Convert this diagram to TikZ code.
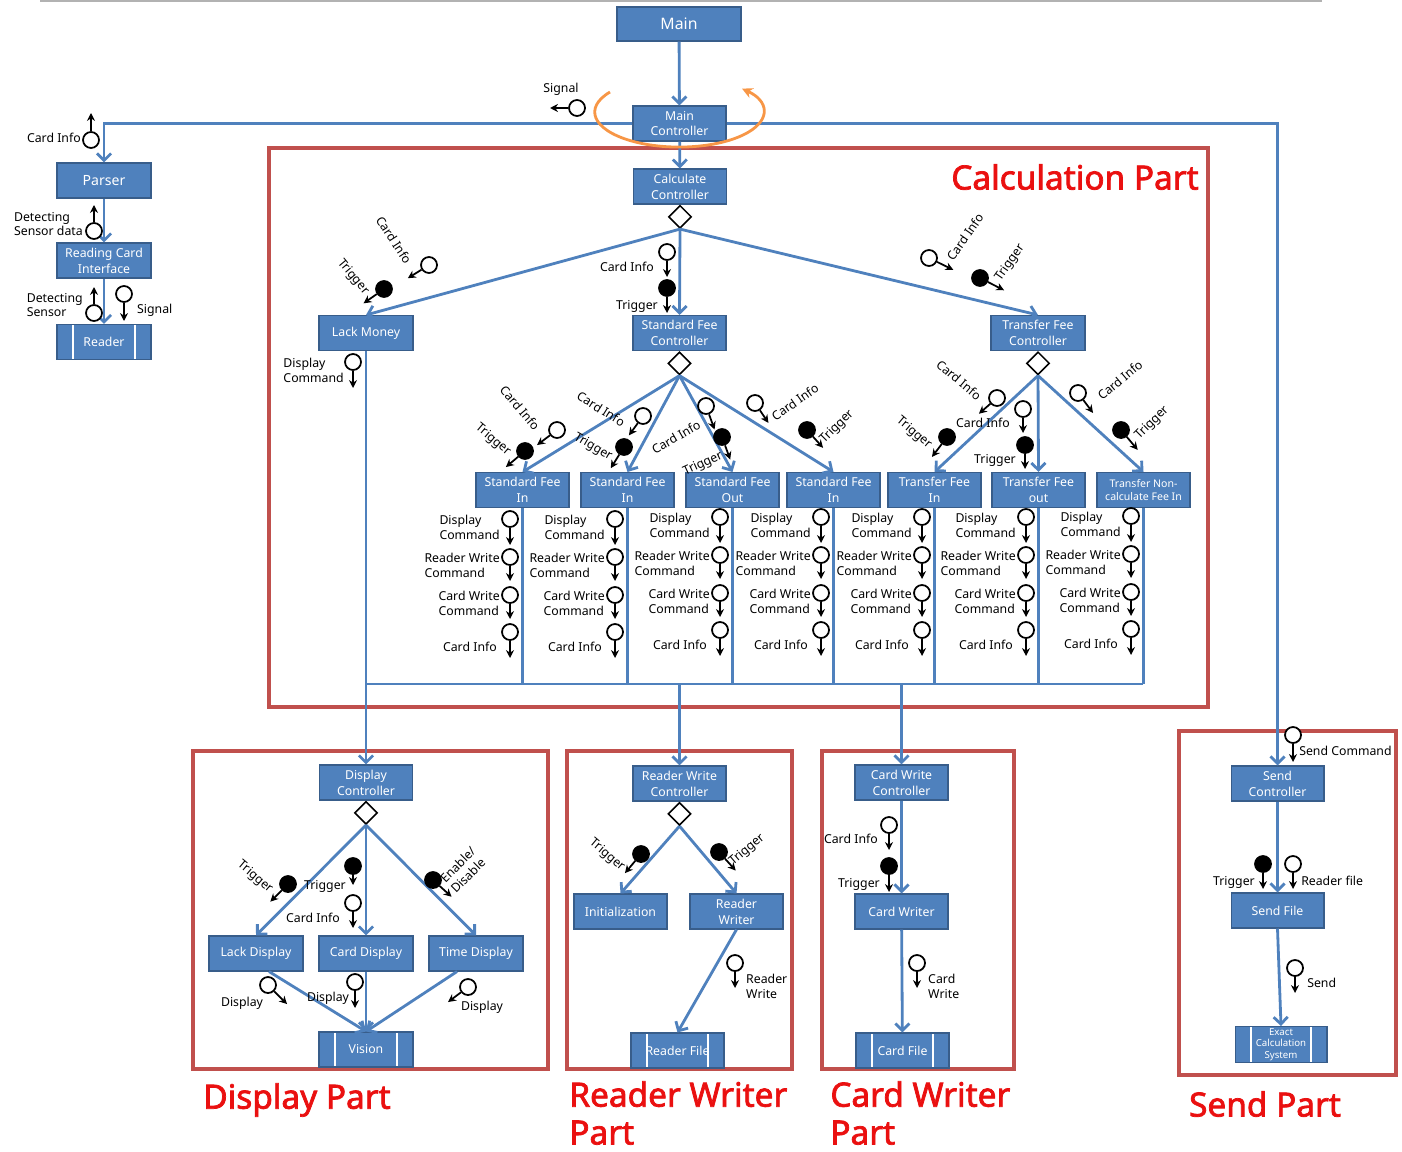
\documentclass[tikz,border=0pt]{standalone}
\usepackage{fontspec}
\setmainfont{Noto Sans}
\newfontfamily\titlefont{Noto Sans}[FakeBold=2.2]
\usetikzlibrary{positioning,shapes.geometric,arrows.meta}
\definecolor{BoxBlue}{RGB}{79,129,189}
\definecolor{BoxEdge}{RGB}{56,93,138}
\definecolor{PartRed}{RGB}{192,80,77}
\definecolor{TitleRed}{RGB}{234,16,16}
\definecolor{LoopOrange}{RGB}{247,150,70}
\newcommand{\boxfont}{\fontsize{7}{9}\selectfont}
\newcommand{\lblfont}{\fontsize{7}{8.5}\selectfont}
\tikzset{
  blk/.style={draw=BoxEdge,fill=BoxBlue,text=white,line width=0.6pt,minimum width=1.86cm,minimum height=0.7cm,inner sep=1pt,align=center,font=\boxfont},
  store/.style={blk,path picture={
      \draw[white,line width=1.2pt] ([xshift=0.32cm]path picture bounding box.north west) -- ([xshift=0.32cm]path picture bounding box.south west);
      \draw[white,line width=1.2pt] ([xshift=-0.32cm]path picture bounding box.north east) -- ([xshift=-0.32cm]path picture bounding box.south east);}},
  choice/.style={diamond,draw=black,fill=white,line width=0.9pt,minimum size=0.46cm,inner sep=0pt},
  wire/.style={draw=BoxBlue,line width=1.6pt},
  flow/.style={wire,-{Straight Barb[length=4pt,width=8pt]}},
  part/.style={draw=PartRed,line width=2.3pt},
  parttitle/.style={text=TitleRed,font=\titlefont\fontsize{19}{21.5}\selectfont,align=left,inner sep=0pt},
  lbl/.style={font=\lblfont,align=left,inner sep=0.5pt},
  cpl/.style={circle,draw=black,line width=1pt,minimum size=0.32cm,inner sep=0pt},
  cplarrow/.style={draw=black,line width=1pt,-{Stealth[length=4.5pt,width=4.5pt]}},
}
% data couple: [fill]{centre}{direction}{length}{name}
\newcommand{\couple}[5][white]{%
  \node[cpl,fill=#1] (#5) at (#2) {};
  \draw[cplarrow] (#5) -- ++(#3:#4);
}
\begin{document}
\begin{tikzpicture}[x=0.02cm,y=-0.02cm]
\useasboundingbox (0,0) rectangle (1402,1152);
\draw[gray!60,line width=1pt] (40,1) -- (1322,1);

% parts
\draw[part] (269,148) rectangle (1208,707);
\draw[part] (193,751) rectangle (548,1069);
\draw[part] (567,751) rectangle (792,1069);
\draw[part] (822,751) rectangle (1014,1069);
\draw[part] (1179,731) rectangle (1396,1075);
\node[parttitle,anchor=east] (calctitle) at (1199,177) {Calculation Part};
\node[parttitle] (disptitle) at (297,1100) {Display Part};
\node[parttitle,anchor=west] (rwtitle) at (569,1113) {Reader Writer\\Part};
\node[parttitle,anchor=west] (cwtitle) at (830,1113) {Card Writer\\Part};
\node[parttitle] (sendtitle) at (1265,1104) {Send Part};

% top
\node[blk,minimum width=2.48cm,minimum height=0.68cm,font=\fontsize{9}{10}\selectfont] (main) at (679,24) {Main};
\node[blk] (mainc) at (679.5,123.5) {Main\\Controller};
\node[blk] (calc) at (680,186.5) {Calculate\\Controller};
\node[choice,below=0pt of calc] (calcd) {};

% reader side
\node[blk,minimum width=1.88cm,font=\fontsize{8}{9}\selectfont] (parser) at (104,180.5) {Parser};
\node[blk,minimum width=1.88cm] (rci) at (104,260.5) {Reading Card\\Interface};
\node[store,minimum width=1.88cm] (reader) at (104,342) {Reader};

% calculation
\node[blk,minimum width=1.88cm] (lack) at (366,333) {Lack Money};
\node[blk] (stdc) at (679.5,333) {Standard Fee\\Controller};
\node[choice,below=0pt of stdc] (stdd) {};
\node[blk,minimum width=1.88cm] (trfc) at (1038,333) {Transfer Fee\\Controller};
\node[choice,below=0pt of trfc] (trfd) {};
\node[blk] (sfa) at (522.5,490) {Standard Fee\\In};
\node[blk] (sfb) at (627.5,490) {Standard Fee\\In};
\node[blk] (sfo) at (732.5,490) {Standard Fee\\Out};
\node[blk] (sfd) at (833.5,490) {Standard Fee\\In};
\node[blk] (tfi) at (934.5,490) {Transfer Fee\\In};
\node[blk] (tfo) at (1038.5,490) {Transfer Fee\\out};
\node[blk,font=\fontsize{6}{7.5}\selectfont] (tnc) at (1143.5,490) {Transfer Non-\\calculate Fee In};

% display
\node[blk] (dispc) at (366,782.5) {Display\\Controller};
\node[choice,below=0pt of dispc] (dispd) {};
\node[blk,minimum width=1.88cm] (lackd) at (256,953.5) {Lack Display};
\node[blk,minimum width=1.88cm] (cardd) at (366,953.5) {Card Display};
\node[blk,minimum width=1.88cm] (timed) at (476,953.5) {Time Display};
\node[store,minimum width=1.88cm] (vision) at (366,1049.5) {Vision};

% reader writer
\node[blk] (rwc) at (679.5,783.5) {Reader Write\\Controller};
\node[choice,below=0pt of rwc] (rwd) {};
\node[blk] (init) at (620.5,911.5) {Initialization};
\node[blk] (rwr) at (736.5,911.5) {Reader\\Writer};
\node[store] (rfile) at (677.5,1050.5) {Reader File};

% card writer
\node[blk] (cwc) at (901.5,782.5) {Card Write\\Controller};
\node[blk] (cwr) at (901.5,911.5) {Card Writer};
\node[store] (cfile) at (902.5,1050.5) {Card File};

% send
\node[blk] (sendc) at (1277.5,783.5) {Send\\Controller};
\node[blk] (sendf) at (1277.5,910.5) {Send File};
\node[store,minimum width=1.84cm,font=\fontsize{5.5}{6.6}\selectfont] (exact) at (1281,1044.5) {Exact\\Calculation\\System};

% connectors
\draw[flow] (main) -- (mainc);
\draw[flow] (mainc) -- (calc);
\draw[flow] (mainc.west) -| (parser.north);
\draw[flow] (mainc.east) -| (sendc.north);
\draw[flow] (parser) -- (rci);
\draw[flow] (rci) -- (reader);
\draw[flow] (calcd.south) -- (lack.north);
\draw[flow] (calcd.south) -- (stdc.north);
\draw[flow] (calcd.south) -- (trfc.north);
\foreach \b in {sfa,sfb,sfo,sfd} \draw[flow] (stdd.south) -- (\b.north);
\foreach \b in {tfi,tfo,tnc} \draw[flow] (trfd.south) -- (\b.north);
\coordinate (busl) at (366,684);
\coordinate (busr) at (1143,684);
\draw[wire] (busl) -- (busr);
\foreach \b in {sfa,sfb,sfo,sfd,tfi,tfo,tnc} \draw[wire] (\b.south) -- (\b.south |- busl);
\draw[flow] (lack) -- (dispc);
\draw[flow] (rwc.north |- busl) -- (rwc.north);
\draw[flow] (cwc.north |- busl) -- (cwc.north);
\draw[flow] (dispd.south) -- (lackd.north);
\draw[flow] (dispd.south) -- (cardd.north);
\draw[flow] (dispd.south) -- (timed.north);
\draw[flow] ([xshift=0.26cm]lackd.south) -- (vision.north);
\draw[flow] (cardd.south) -- (vision.north);
\draw[flow] ([xshift=-0.38cm]timed.south) -- (vision.north);
\draw[flow] (rwd.south) -- (init.north);
\draw[flow] (rwd.south) -- (rwr.north);
\draw[flow] (rwr.south) -- (rfile.north);
\draw[flow] (cwc) -- (cwr);
\draw[flow] (cwr) -- (cfile);
\draw[flow] (sendc) -- (sendf);
\draw[flow] (sendf.south) -- (exact.north);

% loop round the main controller
\draw[LoopOrange,line width=1.6pt,-{Stealth[length=6pt,width=6pt]}] (610,92) arc[start angle=215,end angle=-42,x radius=84.5,y radius=35];

% couples, reader side
\couple{91,140}{-90}{27}{pci}
\node[lbl,anchor=east] (pcil) at (82,138) {Card Info};
\couple{94,231}{-90}{26}{rsd}
\node[lbl,anchor=east] (rsdl) at (84,224) {Detecting\\Sensor data};
\couple{94,313}{-90}{26}{rds}
\node[lbl,anchor=east] (rdsl) at (84,305) {Detecting\\Sensor};
\couple{124,294}{90}{27}{rsg}
\node[lbl,anchor=west] (rsgl) at (136,310) {Signal};
\couple{577,108}{180}{27}{msg}
\node[lbl] (msgl) at (561,89) {Signal};

% couples, calculation
\couple{429,265}{148}{25}{lci}
\node[lbl,rotate=-57] (lcil) at (394,240) {Card Info};
\couple[black]{384,289}{145}{25}{ltr}
\node[lbl,rotate=-50] (ltrl) at (353,277) {Trigger};
\couple{667,252}{90}{25}{sci}
\node[lbl,anchor=east] (scil) at (655,267) {Card Info};
\couple[black]{667,288}{90}{25}{str}
\node[lbl,anchor=east] (strl) at (659,306) {Trigger};
\couple{929,258}{26}{27}{tci}
\node[lbl,rotate=55] (tcil) at (965,237) {Card Info};
\couple[black]{980,278}{27}{27}{ttr}
\node[lbl,rotate=55] (ttrl) at (1010,263) {Trigger};
\couple{353,362}{90}{26}{ldc}
\node[lbl,anchor=east] (ldcl) at (345,370) {Display\\Command};

\couple{557,430}{143}{25}{aci}
\node[lbl,rotate=-50] (acil) at (520,408) {Card Info};
\couple[black]{525,451}{140}{25}{atr}
\node[lbl,rotate=-40] (atrl) at (493,440) {Trigger};
\couple{643,416}{126}{24}{bci}
\node[lbl,rotate=-32] (bcil) at (601,409) {Card Info};
\couple[black]{624,447}{122}{25}{btr}
\node[lbl,rotate=-30] (btrl) at (593,447) {Trigger};
\couple{706,406}{70}{25}{oci}
\node[lbl,rotate=30] (ocil) at (676,437) {Card Info};
\couple[black]{722,437}{70}{24}{otr}
\node[lbl,rotate=25] (otrl) at (703,464) {Trigger};
\couple{755,403}{56}{24}{dci}
\node[lbl,rotate=35] (dcil) at (795,402) {Card Info};
\couple[black]{807,430}{48}{24}{dtr}
\node[lbl,rotate=45] (dtrl) at (837,427) {Trigger};

\couple{997,398}{139}{24}{ici}
\node[lbl,rotate=-40] (icil) at (959,380) {Card Info};
\couple[black]{947,437}{127}{25}{itr}
\node[lbl,rotate=-40] (itrl) at (914,433) {Trigger};
\couple{1023,409}{90}{24}{uci}
\node[lbl] (ucil) at (983,423) {Card Info};
\couple[black]{1025,445}{90}{24}{utr}
\node[lbl] (utrl) at (995,460) {Trigger};
\couple{1078,393}{53}{25}{nci}
\node[lbl,rotate=40] (ncil) at (1120,380) {Card Info};
\couple[black]{1121,430}{50}{26}{ntr}
\node[lbl,rotate=45] (ntrl) at (1152,423) {Trigger};

\foreach \b/\cx/\up in {sfa/522/0, sfb/627/0, sfo/732/2, sfd/833/2, tfi/934/2, tfo/1038/2, tnc/1143/3} {
  \couple{\cx-12,519-\up}{90}{26}{\b-dc}
  \node[lbl,anchor=east] (\b-dcl) at (\cx-21,527-\up) {Display\\Command};
  \couple{\cx-12,557-\up}{90}{24}{\b-rw}
  \node[lbl,anchor=east] (\b-rwl) at (\cx-21,565-\up) {Reader Write\\Command};
  \couple{\cx-12,595-\up}{90}{24}{\b-cw}
  \node[lbl,anchor=east] (\b-cwl) at (\cx-21,603-\up) {Card Write\\Command};
  \couple{\cx-12,632-\up}{90}{26}{\b-ci}
  \node[lbl,anchor=east] (\b-cil) at (\cx-24,647-\up) {Card Info};
}

% couples, display
\couple[black]{288,884}{135}{25}{xlt}
\node[lbl,rotate=-40] (xltl) at (255,877) {Trigger};
\couple[black]{353,866}{90}{19}{xct}
\node[lbl] (xctl) at (325,886) {Trigger};
\couple{353,903}{90}{25}{xci}
\node[lbl] (xcil) at (313,918) {Card Info};
\couple[black]{433,880}{42}{25}{xte}
\node[lbl,rotate=45] (xtel) at (463,870) {Enable/\\Disable};
\couple{268,985}{45}{27}{xvl}
\node[lbl] (xvll) at (242,1003) {Display};
\couple{355,982}{90}{26}{xvc}
\node[lbl] (xvcl) at (328,998) {Display};
\couple{468,987}{143}{25}{xvt}
\node[lbl] (xvtl) at (482,1007) {Display};

% couples, reader writer
\couple[black]{641,854}{130}{25}{rit}
\node[lbl,rotate=-40] (ritl) at (607,855) {Trigger};
\couple[black]{719,852}{48}{25}{rwt}
\node[lbl,rotate=40] (rwtl) at (747,850) {Trigger};
\couple{735,963}{90}{25}{rww}
\node[lbl,anchor=west] (rwwl) at (745,986) {Reader\\Write};

% couples, card writer
\couple{889,825}{90}{25}{kci}
\node[lbl,anchor=east] (kcil) at (879,839) {Card Info};
\couple[black]{889,866}{90}{26}{ktr}
\node[lbl,anchor=east] (ktrl) at (881,884) {Trigger};
\couple{917,963}{90}{25}{kcw}
\node[lbl,anchor=west] (kcwl) at (927,986) {Card\\Write};

% couples, send
\couple{1293,735}{90}{27}{ssc}
\node[lbl,anchor=west] (sscl) at (1298,751) {Send Command};
\couple[black]{1263,864}{90}{25}{sft}
\node[lbl,anchor=east] (sftl) at (1256,882) {Trigger};
\couple{1293,864}{90}{25}{sfr}
\node[lbl,anchor=west] (sfrl) at (1300,881) {Reader file};
\couple{1295,968}{90}{25}{ssd}
\node[lbl,anchor=west] (ssdl) at (1306,983) {Send};
\end{tikzpicture}
\end{document}
